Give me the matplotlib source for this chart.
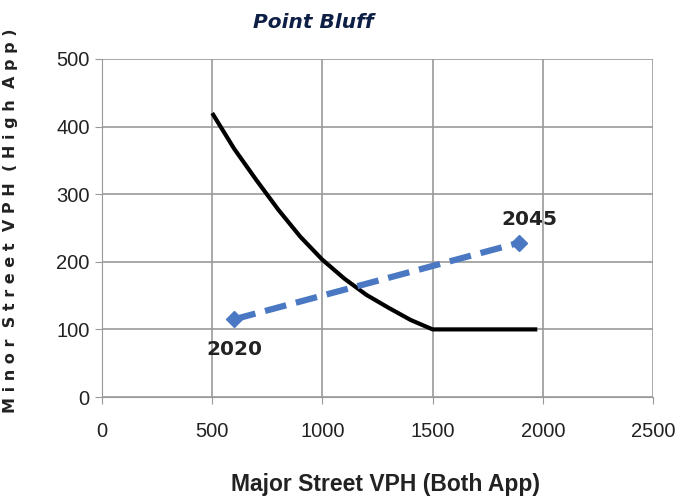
import matplotlib
matplotlib.use('Agg')
import matplotlib.pyplot as plt

# Warrant curve (black)
curve_x = [500, 600, 700, 800, 900, 1000, 1100, 1200, 1300, 1400, 1500, 1975]
curve_y = [420, 367, 321, 277, 237, 203, 175, 151, 132, 114, 100, 100]

# Projection (blue dashed)
proj_x = [600, 1890]
proj_y = [115, 228]
proj_labels = ['2020', '2045']

x_ticks = [0, 500, 1000, 1500, 2000, 2500]
y_ticks = [0, 100, 200, 300, 400, 500]

narrow = 'Liberation Sans'

fig = plt.figure(figsize=(6.87, 4.99), dpi=100)
ax = fig.add_axes([0.1485, 0.2044, 0.802, 0.6774])

ax.plot(curve_x, curve_y, color='black', lw=3, solid_capstyle='butt')
ax.plot(proj_x, proj_y, color='#4a78c2', lw=4.5, ls=(0, (3.5, 1.6)),
        marker='D', markersize=8)

ax.text(proj_x[0], proj_y[0] - 30, proj_labels[0], ha='center', va='top',
        fontsize=14.5, fontweight='bold', color='#222222')
ax.text(proj_x[1] + 50, proj_y[1] + 20, proj_labels[1], ha='center', va='bottom',
        fontsize=14.5, fontweight='bold', color='#222222')

ax.set_xlim(0, 2500)
ax.set_ylim(0, 500)
ax.set_xticks(x_ticks)
ax.set_yticks(y_ticks)
ax.grid(True, color='#999999', lw=1.2)
ax.set_axisbelow(True)
for s in ax.spines.values():
    s.set_visible(False)
ax.spines['bottom'].set_visible(True)
ax.spines['bottom'].set_color('#999999')
ax.spines['left'].set_visible(True)
ax.spines['left'].set_color('#999999')
ax.tick_params(axis='both', colors='#999999', labelcolor='#222222',
               labelsize=14.5, length=5)
ax.tick_params(axis='x', pad=13)
ax.tick_params(axis='y', pad=4)
for lab in ax.get_xticklabels() + ax.get_yticklabels():
    lab.set_family(narrow)

ax.set_xlabel('Major Street VPH (Both App)', fontsize=16.5, fontweight='bold',
              color='#222222', family=narrow)
ax.xaxis.set_label_coords(0.514, -0.225)
ax.set_ylabel('M i n o r  S t r e e t  V P H  ( H i g h  A p p )', fontsize=11.5,
              fontweight='bold', color='#222222')
ax.yaxis.set_label_coords(-0.152, 0.52)

fig.text(0.456, 0.955, 'Point Bluff', ha='center', va='center', fontsize=14.5,
         fontweight='bold', fontstyle='italic', color='#0d1f45')

fig.savefig('out.png', dpi=100)
